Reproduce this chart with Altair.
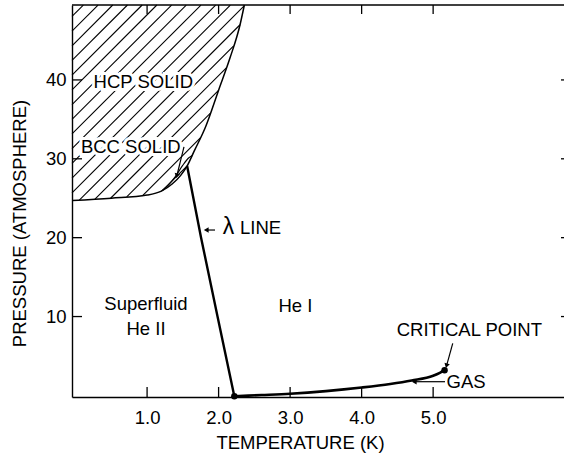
import numpy as np
import pandas as pd
import altair as alt

# Helium-4 phase boundaries: temperature (K) vs pressure (atm)
melt_T = [-0.05, 0.5, 1.0, 1.2, 1.35, 1.47, 1.56, 1.66, 1.82, 2.0, 2.16, 2.3, 2.36]
melt_P = [24.7, 25.0, 25.4, 25.9, 26.8, 27.9, 29.1, 31.0, 34.1, 38.7, 42.8, 47.0, 49.5]
bcc_T = [1.2, 1.3, 1.4, 1.5, 1.58, 1.63]
bcc_P = [25.9, 26.7, 27.8, 29.2, 30.1, 30.43]
lambda_T = [1.56, 1.755, 1.985, 2.22]
lambda_P = [29.1, 20.0, 10.0, -0.1]
vapor_T = [2.22, 2.6, 3.0, 3.5, 4.0, 4.4, 4.7, 5.0, 5.1, 5.16]
vapor_P = [-0.1, 0.05, 0.22, 0.55, 1.0, 1.45, 1.9, 2.5, 2.9, 3.2]
dot_T = [2.22, 5.16]
dot_P = [-0.1, 3.2]

x_ticks = [1, 2, 3, 4, 5]
y_ticks = [10, 20, 30, 40]

# Region labels
label_text = ["HCP SOLID", "BCC SOLID", "Superfluid", "He II", "He I",
              "LINE", "CRITICAL POINT", "GAS"]
label_T = [0.947, 0.772, 0.985, 0.985, 3.075, 2.30, 5.506, 5.46]
label_P = [39.74, 31.53, 11.59, 8.36, 11.33, 21.2, 8.33, 1.76]
label_align = ["center", "center", "center", "center", "center",
               "left", "center", "center"]
lambda_sym_T = [2.14]
lambda_sym_P = [21.35]

# Arrows: tail -> head
arrow_T = [1.516, 1.95, 5.274, 5.166]
arrow_P = [31.5, 20.97, 6.6, 1.74]
arrow_T2 = [1.418, 1.838, 5.19, 4.747]
arrow_P2 = [27.94, 20.97, 3.85, 1.74]

# Plot geometry
W, H = 492, 392
X_DOM = [-0.05, 6.83]
Y_DOM = [-0.2, 49.5]
PX_T = W / (X_DOM[1] - X_DOM[0])
PX_P = H / (Y_DOM[1] - Y_DOM[0])
FONT = "Liberation Sans"
FS = 18.5

# Diagonal hatching of the solid region (above the melting curve)
HATCH_SLOPE = 1.0 * PX_T / PX_P      # atm per K, 45 degrees on screen
HATCH_STEP = 14.7 / PX_T             # horizontal spacing in K
HATCH_C0 = Y_DOM[1] - HATCH_SLOPE * 0.109

xs = np.linspace(X_DOM[0], melt_T[-1], 4000)
floor = np.interp(xs, melt_T, melt_P)
hatch_rows = []
seg = 0
for k in range(-40, 40):
    c = HATCH_C0 - k * HATCH_STEP * HATCH_SLOPE
    ys = HATCH_SLOPE * xs + c
    inside = (ys >= floor) & (ys <= Y_DOM[1])
    if not inside.any():
        continue
    idx = np.flatnonzero(inside)
    breaks = np.flatnonzero(np.diff(idx) > 1)
    starts = np.r_[idx[0], idx[breaks + 1]]
    ends = np.r_[idx[breaks], idx[-1]]
    for a, b in zip(starts, ends):
        if b - a < 2:
            continue
        hatch_rows.append({"T": xs[a], "P": ys[a], "seg": seg, "i": 0})
        hatch_rows.append({"T": xs[b], "P": ys[b], "seg": seg, "i": 1})
        seg += 1
hatch = pd.DataFrame(hatch_rows)


def curve(T, P):
    return pd.DataFrame({"T": T, "P": P, "i": range(len(T))})


labels = pd.DataFrame({"T": label_T, "P": label_P, "text": label_text,
                       "align": label_align})
arrows = pd.DataFrame({"T": arrow_T, "P": arrow_P, "T2": arrow_T2, "P2": arrow_P2})
dx = (arrows["T2"] - arrows["T"]) * PX_T
dy = -(arrows["P2"] - arrows["P"]) * PX_P
arrows["angle"] = (np.degrees(np.arctan2(dx, -dy)) + 360) % 360

xs_ = alt.Scale(domain=X_DOM, nice=False, zero=False)
ys_ = alt.Scale(domain=Y_DOM, nice=False, zero=False)
x_axis = alt.Axis(values=x_ticks, format=".1f", ticks=False, grid=False,
                  labelFontSize=FS, labelPadding=11, labelOverlap=False,
                  title="TEMPERATURE (K)", titleFontSize=FS,
                  titleFontWeight="normal", titleX=228, titleY=51,
                  titleBaseline="alphabetic", titleAlign="center")
y_axis = alt.Axis(values=y_ticks, ticks=False, grid=False,
                  labelFontSize=FS, labelPadding=6, labelOverlap=False,
                  title="PRESSURE (ATMOSPHERE)", titleFontSize=FS,
                  titleFontWeight="normal", titleX=-53, titleY=218,
                  titleAngle=-90, titleBaseline="middle", titleAlign="center")
X = alt.X("T:Q", scale=xs_, axis=x_axis)
Y = alt.Y("P:Q", scale=ys_, axis=y_axis)

hatch_layer = alt.Chart(hatch).mark_line(color="black", strokeWidth=1.1).encode(
    x=X, y=Y, detail="seg:N", order="i:Q")

# White halo behind the solid-phase labels breaks the hatching around them
halo_layer = alt.Chart(labels.iloc[:2]).mark_text(
    font=FONT, fontSize=FS, stroke="white", strokeWidth=6, fill="white",
    baseline="middle", align="center").encode(x=X, y=Y, text="text:N")

text_center = alt.Chart(labels[labels["align"] == "center"]).mark_text(
    font=FONT, fontSize=FS, color="black", baseline="middle",
    align="center").encode(x=X, y=Y, text="text:N")
text_left = alt.Chart(labels[labels["align"] == "left"]).mark_text(
    font=FONT, fontSize=FS, color="black", baseline="middle",
    align="left").encode(x=X, y=Y, text="text:N")
lambda_sym = alt.Chart(pd.DataFrame({"T": lambda_sym_T, "P": lambda_sym_P,
                                     "text": ["λ"]})).mark_text(
    font=FONT, fontSize=23, color="black", baseline="middle",
    align="center").encode(x=X, y=Y, text="text:N")

melt_layer = alt.Chart(curve(melt_T, melt_P)).mark_line(
    color="black", strokeWidth=1.5, interpolate="monotone").encode(
    x=X, y=Y, order="i:Q")
bcc_layer = alt.Chart(curve(bcc_T, bcc_P)).mark_line(
    color="black", strokeWidth=1.1, interpolate="monotone").encode(
    x=X, y=Y, order="i:Q")
lambda_layer = alt.Chart(curve(lambda_T, lambda_P)).mark_line(
    color="black", strokeWidth=2.4).encode(x=X, y=Y, order="i:Q")
vapor_layer = alt.Chart(curve(vapor_T, vapor_P)).mark_line(
    color="black", strokeWidth=2.6, interpolate="monotone").encode(
    x=X, y=Y, order="i:Q")
dot_layer = alt.Chart(curve(dot_T, dot_P)).mark_circle(
    color="black", size=42, opacity=1).encode(x=X, y=Y)

shaft_layer = alt.Chart(arrows).mark_rule(color="black", strokeWidth=1.2).encode(
    x=X, y=Y, x2="T2:Q", y2="P2:Q")
head_layer = alt.Chart(arrows).mark_point(
    shape="triangle", filled=True, color="black", size=30, opacity=1).encode(
    x=alt.X("T2:Q", scale=xs_, axis=x_axis), y=alt.Y("P2:Q", scale=ys_, axis=y_axis),
    angle=alt.Angle("angle:Q", scale=None))

# Frame pieces and inward tick marks
one = pd.DataFrame({"k": [0]})
top_border = alt.Chart(one).mark_rule(color="black", strokeWidth=1.3).encode(
    x=alt.value(0), x2=alt.value(W), y=alt.value(0))
xt = pd.DataFrame({"T": x_ticks})
yt = pd.DataFrame({"P": y_ticks})
tick_style = dict(color="black", strokeWidth=1.3)
bottom_ticks = alt.Chart(xt).mark_rule(**tick_style).encode(
    x=X, y=alt.value(H), y2=alt.value(H - 10))
top_ticks = alt.Chart(xt).mark_rule(**tick_style).encode(
    x=X, y=alt.value(0), y2=alt.value(9))
left_ticks = alt.Chart(yt).mark_rule(**tick_style).encode(
    y=Y, x=alt.value(0), x2=alt.value(10))
right_ticks = alt.Chart(yt).mark_rule(**tick_style).encode(
    y=Y, x=alt.value(W - 3), x2=alt.value(W))

chart = alt.layer(
    hatch_layer, halo_layer, text_center, text_left, lambda_sym,
    melt_layer, bcc_layer, lambda_layer, vapor_layer, dot_layer,
    shaft_layer, head_layer,
    top_border, bottom_ticks, top_ticks, left_ticks, right_ticks,
).properties(
    width=W, height=H,
    background="white",
    autosize=alt.AutoSizeParams(type="none"),
    padding={"left": 72, "top": 5, "right": 0, "bottom": 58},
).configure_view(
    stroke=None
).configure_axis(
    domainColor="black", domainWidth=1.4, labelColor="black",
    titleColor="black", labelFont=FONT, titleFont=FONT,
)

chart.save("out.html", embed_options={"renderer": "svg", "actions": False})
